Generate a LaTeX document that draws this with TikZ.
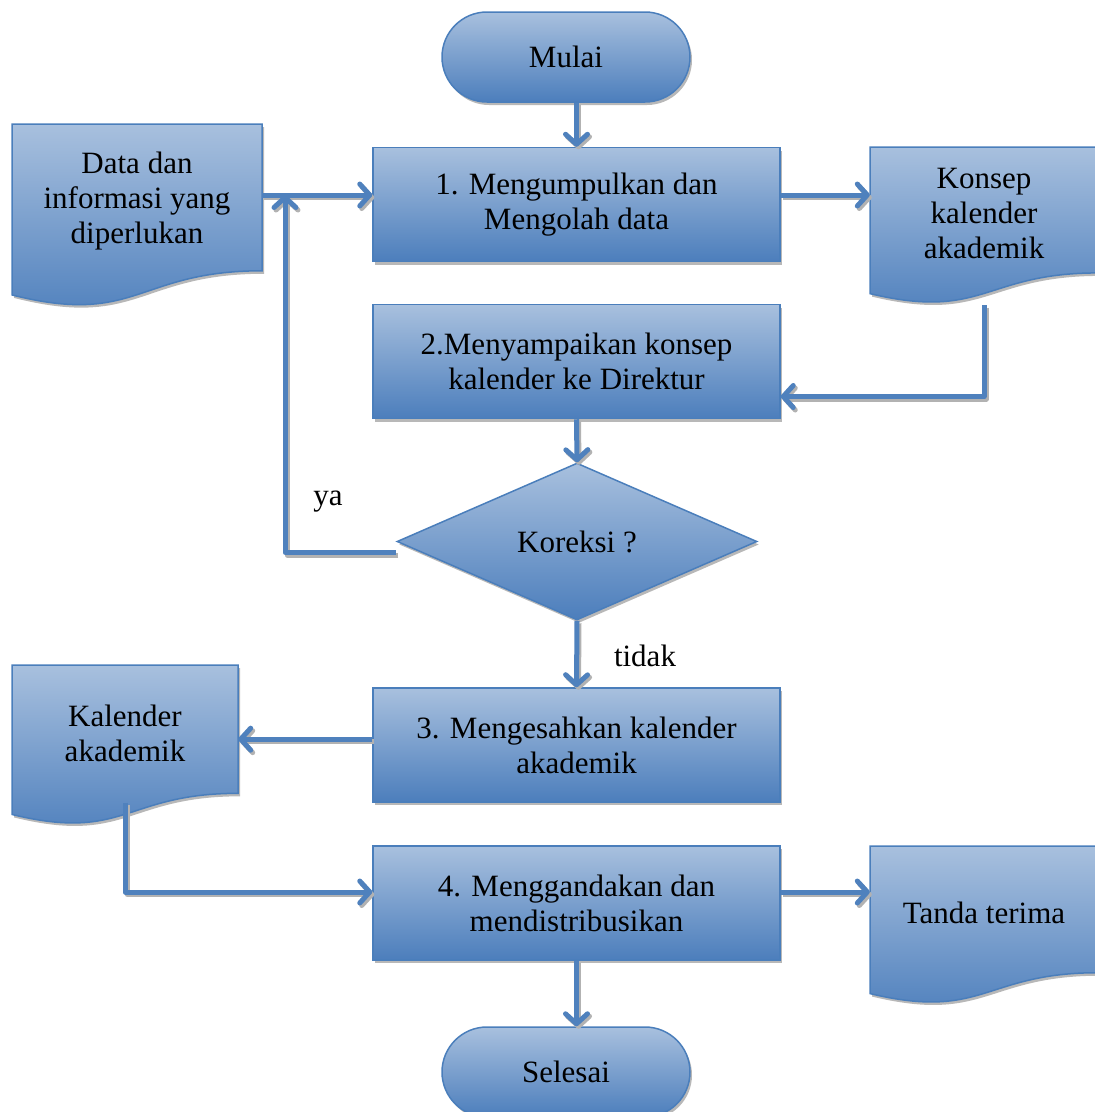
\documentclass[tikz,border=0pt]{standalone}
\usepackage{fontspec}
\setmainfont{Liberation Serif}
\usetikzlibrary{shapes.geometric,arrows.meta,shadows,calc}
\definecolor{boxtop}{RGB}{168,192,222}
\definecolor{boxbot}{RGB}{76,126,188}
\definecolor{boxline}{RGB}{74,126,187}
\definecolor{arrowc}{RGB}{79,129,189}
\tikzset{
  shade/.style={top color=boxtop, bottom color=boxbot, draw=boxline, line width=1.5pt,
    drop shadow={shadow xshift=2pt, shadow yshift=-3pt, fill=gray!70, opacity=0.8}},
  txt/.style={font=\fontsize{31}{35}\selectfont, align=center, text=black},
  procbox/.style={shade, txt, rectangle, minimum width=407pt, minimum height=114pt, inner sep=0pt},
  termbox/.style={shade, txt, rectangle, rounded corners=45pt, minimum width=248pt, minimum height=90pt, inner sep=0pt},
  decbox/.style={shade, txt, diamond, minimum width=360pt, minimum height=157pt, inner sep=0pt},
  doctext/.style={txt, rectangle, inner sep=0pt},
  connbase/.style={line width=5pt, line join=round,
    -{Straight Barb[length=10pt,width=22pt,line cap=round,line join=round]}},
  conn/.style={connbase, draw=arrowc},
  connshadow/.style={connbase, draw=gray!60, transform canvas={xshift=2pt,yshift=-2.5pt}},
  lbl/.style={txt}
}
\newcommand{\cn}[1]{\draw[connshadow] #1; \draw[conn] #1;}
% #1 name, #2 x, #3 top y, #4 width, #5 height, #6 text
\newcommand{\docnode}[6]{%
  \path[shade] (#2,#3) -- (#2+#4,#3) -- (#2+#4,#3+0.802*#5)
     .. controls (#2+0.5*#4,#3+0.802*#5) and (#2+0.5*#4,#3+1.107*#5) .. (#2,#3+0.934*#5) -- cycle;
  \node[doctext, minimum width=#4 pt, minimum height=0.802*#5 pt] (#1) at (#2+0.5*#4,#3+0.401*#5+4) {#6};
}
\begin{document}
\begin{tikzpicture}[x=1pt,y=-1pt]
\useasboundingbox (0,0) rectangle (1095,1112);

% terminals
\node[termbox] (mulai) at (566,57) {Mulai};
\node[termbox] (selesai) at (566,1072) {Selesai};

% process boxes
\node[procbox] (p1) at (576.5,204.5) {1. Mengumpulkan dan\\Mengolah data};
\node[procbox] (p2) at (576.5,361.5) {2.Menyampaikan konsep\\kalender ke Direktur};
\node[procbox] (p3) at (576.5,745) {3. Mengesahkan kalender\\akademik};
\node[procbox] (p4) at (576.5,903) {4. Menggandakan dan\\mendistribusikan};

% decision
\node[decbox] (kor) at (577,541.5) {Koreksi ?};

% documents
\docnode{data}{12}{124}{250}{183}{Data dan\\informasi yang\\diperlukan}
\docnode{konsep}{870}{147}{228}{157}{Konsep\\kalender\\akademik}
\docnode{kal}{12}{665}{226}{160}{Kalender\\akademik}
\docnode{tanda}{870}{846}{228}{158}{Tanda terima}

\coordinate (join) at (285,195);

% connectors
\cn{(p1.north |- mulai.south) -- (p1.north)}
\cn{(join -| data.east) -- (join -| p1.west)}
\cn{(join -| p1.east) -- (join -| konsep.west)}
\cn{([yshift=-28pt]konsep.south) |- ([yshift=-35pt]p2.east)}
\cn{(p2.south) -- (kor.north)}
\cn{([yshift=-11pt]kor.west) -| (join)}
\cn{(kor.south) -- (p3.north)}
\cn{([yshift=-6pt]kal.east -| p3.west) -- ([yshift=-6pt]kal.east)}
\cn{([yshift=-5pt]kal.south) |- ([yshift=11pt]p4.west)}
\cn{([yshift=11pt]p4.east) -- ([yshift=11pt]p4.east -| tanda.west)}
\cn{(p4.south) -- (p4.south |- selesai.north)}

% labels
\node[lbl] (ya) at (328,502) {ya};
\node[lbl] (tidak) at (645,656) {tidak};
\end{tikzpicture}
\end{document}
